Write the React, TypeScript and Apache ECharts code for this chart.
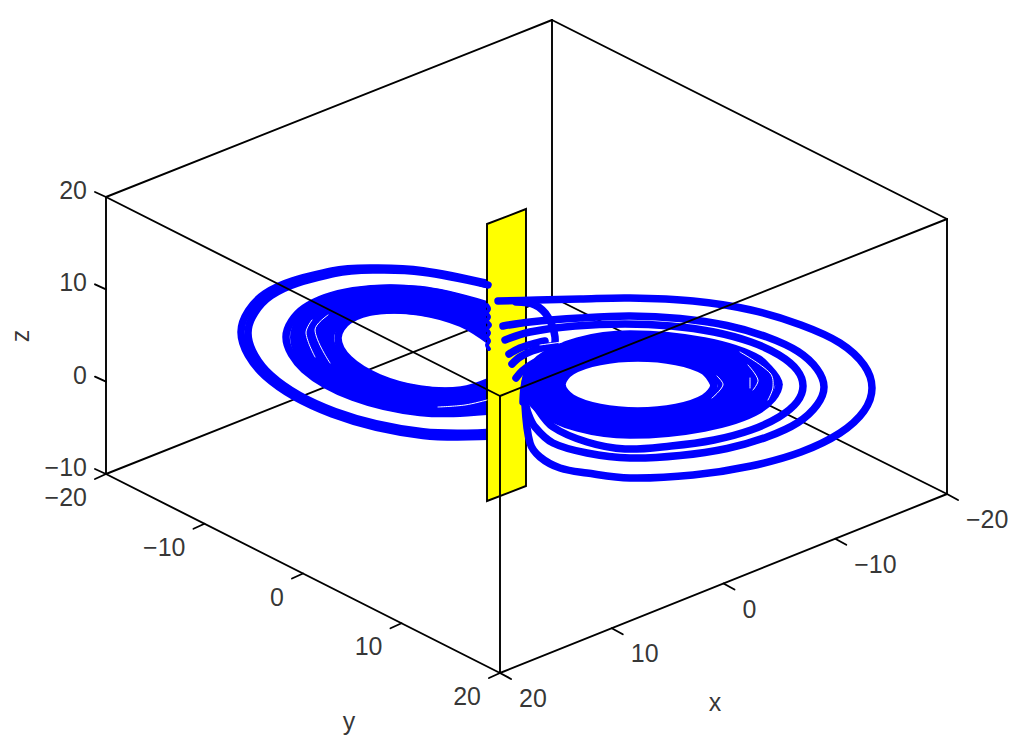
import React, { useEffect, useRef } from "react";
import * as echarts from "echarts";

const xTicks = [20, 10, 0, -10, -20];
const yTicks = [-20, -10, 0, 10, 20];
const zTicks = [20, 10, 0, -10];

// box corners, in plot units
const cornerFrontBottom = [500, 673];
const cornerFrontTop = [500, 396];
const cornerLeftBottom = [106, 474];
const cornerLeftTop = [106, 197];
const cornerRightBottom = [947, 494];
const cornerRightTop = [947, 219];
const cornerBackBottom = [552, 297];
const cornerBackTop = [552, 20];

const plane = [[487, 224], [526, 209], [526, 486], [487, 501]];

// left wing
const leftOuterA = [[488,283.5],[423,270.6],[376,268],[332,271],[265,293.6],[241,332],[265,376],[332,414],[423,435.4],[514,435]];
const leftOuterB = [[486,284.3],[423,272.2],[378,270],[335,273.4],[271,295.6],[248,333],[271,375.4],[335,411.6],[423,431.8],[510,431.6]];
const leftBand1 = [[487,304.8],[420,289.6],[353,290.8],[304,308.2],[286,337],[304,369.6],[353,397.2],[420,412.4],[487,411.2],[515,404.3]];
const leftBand2 = [[505.6,321.1],[480.5,309.5],[420,295.2],[359.5,295.9],[315.2,311.2],[299,337.3],[315.2,366.9],[359.5,392.3],[420,406.6],[480.5,405.9],[505.6,399.8]];
const leftBand3 = [[513.5,337.2],[474,314],[420,300.75],[366,300.8],[326.5,314.3],[312,337.5],[326.5,364.3],[366,387.4],[420,400.75],[474,400.7],[513.5,387.2]];
const leftBand4 = [[502.3,339.7],[467.5,318.8],[420,306.4],[372.5,305.9],[337.7,317.3],[325,337.7],[337.7,361.7],[372.5,382.4],[420,394.8],[467.5,395.3],[502.3,383.9]];
const leftBand5 = [[491,342],[461,323.4],[420,312],[379,310.9],[349,320.4],[338,338],[349,359],[379,377.6],[420,389],[461,390],[491,380.6]];
const leftEnds = [[487,305],[489,309],[487,313],[489,317],[487,321],[490,325],[487,329],[489,333],[487,337],[489,341],[487,345],[489,349]];
const leftOuterEnd = [[478,282],[488,285]];

// right wing
const rightOrbit1 = [[498,301],[537,300],[580,299],[630,298],[693,301],[751,310],[801,325],[840,343],[864,365],[872,388],[864,411],[840,433],[801,452],[751,466],[693,475],[630,478],[587,473],[560,468],[540,457],[530,443],[525,405]];
const rightOrbit2 = [[503,326],[530,322],[580,318],[630,316],[680,318.5],[727,325.5],[767,337],[798,351.5],[817,369],[824,387],[817,405],[798,422.5],[767,437],[727,448.5],[680,455.5],[630,458],[587,453],[553,443],[535,427],[528,413],[525,400]];
const rightOrbit3 = [[505,340],[530,332],[575,326],[625,324],[671,326],[714,332],[751,342],[779,355],[797,370],[803,386],[797,402],[779,417],[751,430],[714,440],[671,446],[625,449],[587,442],[553,427],[537,408],[527,390]];
const rightArc = [[516,302],[535,305],[548,317],[555,337],[553,352]];
const rightStub1 = [[509,354],[520,348],[532,344],[545,341]];
const rightStub2 = [[512,364],[520,357],[532,351],[550,346]];
const rightStub3 = [[516,378],[522,371],[532,364],[545,358]];
const rightStub4 = [[523,402],[524,388],[527,375]];
const rightBand1 = [[779,384.5],[759,359],[704.5,341],[630,334],[577.5,341],[539,359],[525,384.5],[539,410],[577.5,428],[630,435],[704.5,428],[759,410],[779,384.5],[759,359]];
const rightBand2 = [[771,384.5],[752,360.5],[701,343.5],[631,337],[580,343.5],[543,360.5],[529.5,384.5],[543,408.5],[580,425.5],[631,432],[701,425.5],[752,408.5],[771,384.5],[752,360.5]];
const rightBand3 = [[763,384.5],[745,362],[697,346],[632,340],[583,346],[547,362],[534,384.5],[547,407],[583,423],[632,429],[697,423],[745,407],[763,384.5],[745,362]];
const rightBand4 = [[746.5,384.5],[731.5,365],[690,351],[634,346],[589,351],[555.5,365],[543.5,384.5],[555.5,404],[589,418],[634,423],[690,418],[731.5,404],[746.5,384.5],[731.5,365]];
const rightBand5 = [[730,384.5],[718,368],[683,356],[636,352],[594.5,356],[564,368],[553,384.5],[564,401],[594.5,413],[636,417],[683,413],[718,401],[730,384.5],[718,368]];
const rightBand6 = [[722,384.5],[711,369.5],[679.5,358.8],[637,355],[597,358.8],[568,369.5],[557.5,384.5],[568,399.5],[597,410],[637,414],[679.5,410],[711,399.5],[722,384.5],[711,369.5]];
const rightBand7 = [[714,384.5],[704,371],[676,361.5],[638,358],[600,361.5],[572,371],[562,384.5],[572,398],[600,407.5],[638,411],[676,407.5],[704,398],[714,384.5],[704,371]];

// narrow unfilled seams inside the bands
const seams = [
  [[312,320],[306,333],[315,357]],
  [[328,315],[315,330],[330,363]],
  [[438,407],[465,405],[487,400]],
  [[740,352],[770,373],[773,387],[768,400]],
  [[748,365],[758,380],[753,390]],
  [[750,378],[750,388]],
  [[717,376],[723,385],[712,398]],
  [[540,345],[562,342]],
];

const BLUE = "#0000ff";
const BLACK = "#000000";
const FONT = "Liberation Sans";

const lerp = (a: number[], b: number[], t: number) => [a[0] + (b[0] - a[0]) * t, a[1] + (b[1] - a[1]) * t];
const fmt = (v: number) => (v < 0 ? "\u2212" + Math.abs(v) : String(v));

function segment(a: number[], b: number[], z: number, width = 1.9) {
  return {
    type: "line", data: [a, b], z, showSymbol: false, silent: true, clip: false,
    lineStyle: { color: BLACK, width, cap: "round" },
  };
}
// one curve through all of a series' points, placed through the value axes
function curve(d: number[][], z: number, width: number, color: string) {
  return {
    type: "custom", coordinateSystem: "cartesian2d", z, silent: true, clip: false,
    data: d,
    encode: { x: 0, y: 1 },
    renderItem: (params: any, api: any) =>
      params.dataIndex !== 0
        ? null
        : {
            type: "polyline",
            shape: { points: d.map((p) => api.coord(p)), smooth: 0.35 },
            style: { fill: "none", stroke: color, lineWidth: width, lineCap: "round", lineJoin: "round" },
          },
  };
}
const orbit = (d: number[][], z: number, width = 7.5) => curve(d, z, width, BLUE);

function labels(items: { p: number[]; t: string }[], align: string, rotate = 0) {
  return {
    type: "scatter", z: 20, symbolSize: 1, silent: true, clip: false,
    itemStyle: { color: "transparent" },
    data: items.map((i) => ({ value: i.p, name: i.t })),
    label: {
      show: true, position: "inside", formatter: (o: any) => o.name, align, verticalAlign: "middle",
      rotate, color: "#000000", fontFamily: FONT, fontSize: 25,
    },
  };
}

export default function App() {
  const ref = useRef<HTMLDivElement>(null);
  useEffect(() => {
    document.body.style.margin = "0";
    const chart = echarts.init(ref.current!, undefined, { renderer: "svg" });

    const xPos = (v: number) => lerp(cornerFrontBottom, cornerRightBottom, (20 - v) / 40);
    const yPos = (v: number) => lerp(cornerLeftBottom, cornerFrontBottom, (v + 20) / 40);
    const zPos = (v: number) => lerp(cornerLeftTop, cornerLeftBottom, (20 - v) / 30);

    const back = [
      segment(cornerLeftTop, cornerBackTop, 1),
      segment(cornerBackTop, cornerRightTop, 1),
      segment(cornerBackTop, cornerBackBottom, 1),
      segment(cornerLeftBottom, cornerBackBottom, 1),
      segment(cornerBackBottom, cornerRightBottom, 1),
    ];
    const front = [
      segment(cornerLeftTop, cornerLeftBottom, 12),
      segment(cornerRightTop, cornerRightBottom, 12),
      segment(cornerLeftTop, cornerFrontTop, 12),
      segment(cornerFrontTop, cornerRightTop, 12),
      segment(cornerFrontTop, cornerFrontBottom, 12),
      segment(cornerLeftBottom, cornerFrontBottom, 12),
      segment(cornerFrontBottom, cornerRightBottom, 12),
    ];
    const ticks = [
      ...xTicks.map((v) => { const p = xPos(v); return segment(p, [p[0] + 11, p[1] + 6], 12); }),
      ...yTicks.map((v) => { const p = yPos(v); return segment(p, [p[0] - 11, p[1] + 5], 12); }),
      ...zTicks.map((v) => { const p = zPos(v); return segment(p, [p[0] - 11, p[1] - 5], 12); }),
    ];

    const planeSeries = {
      type: "custom", z: 5, silent: true, clip: false, coordinateSystem: "cartesian2d",
      data: [[plane[0][0], plane[0][1]]],
      renderItem: (_: any, api: any) => ({
        type: "polygon",
        shape: { points: plane.map((p) => api.coord(p)) },
        style: { fill: "#ffff00", stroke: BLACK, lineWidth: 1.9 },
      }),
    };

    const option = {
      animation: false,
      backgroundColor: "#ffffff",
      grid: { left: 0, right: 0, top: 0, bottom: 0 },
      xAxis: { type: "value", min: 0, max: 1024, show: false },
      yAxis: { type: "value", min: 0, max: 744, inverse: true, show: false },
      series: [
        ...back,
        orbit(leftOuterA, 3), orbit(leftOuterB, 3),
        orbit(leftBand1, 3), orbit(leftBand2, 3, 18), orbit(leftBand3, 3, 18), orbit(leftBand4, 3, 18), orbit(leftBand5, 3),
        planeSeries,
        orbit(leftEnds, 6, 4), orbit(leftOuterEnd, 6),
        orbit(rightOrbit1, 7), orbit(rightOrbit2, 7), orbit(rightOrbit3, 7), orbit(rightArc, 7),
        orbit(rightStub1, 7), orbit(rightStub2, 7), orbit(rightStub3, 7), orbit(rightStub4, 7),
        orbit(rightBand1, 7), orbit(rightBand2, 7, 8), orbit(rightBand3, 7, 18), orbit(rightBand4, 7, 18),
        orbit(rightBand5, 7, 18), orbit(rightBand6, 7, 8), orbit(rightBand7, 7),
        ...seams.map((s) => curve(s, 8, 1, "#ffffff")),
        ...front,
        ...ticks,
        labels(zTicks.map((v) => { const p = zPos(v); return { p: [p[0] - 19, p[1] - 7], t: fmt(v) }; }), "right"),
        labels(yTicks.map((v) => { const p = yPos(v); return { p: [p[0] - 19, p[1] + 23], t: fmt(v) }; }), "right"),
        labels(xTicks.map((v) => { const p = xPos(v); return { p: [p[0] + 19, p[1] + 25], t: fmt(v) }; }), "left"),
        labels([{ p: [715, 702], t: "x" }, { p: [349, 721], t: "y" }], "center"),
        labels([{ p: [20, 336], t: "z" }], "center", 90),
      ],
    };
    chart.setOption(option as any);
    return () => chart.dispose();
  }, []);
  return <div ref={ref} style={{ position: "absolute", left: 0, top: 0, width: 1024, height: 744 }} />;
}
